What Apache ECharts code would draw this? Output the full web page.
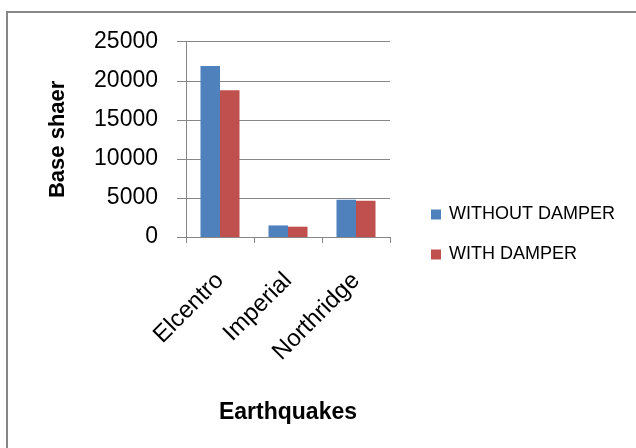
<!DOCTYPE html>
<html>
<head>
<meta charset="utf-8">
<script src="https://cdn.jsdelivr.net/npm/echarts@6/dist/echarts.min.js"></script>
<style>html,body{margin:0;padding:0;background:#fff}#c{width:636px;height:448px}</style>
</head>
<body>
<div id="c"></div>
<script>
const categories = ['Elcentro', 'Imperial', 'Northridge'];
const withoutDamper = [21900, 1480, 4770];
const withDamper = [18800, 1320, 4640];
const yTicks = { min: 0, max: 25000, interval: 5000 };
const seriesNames = ['WITHOUT DAMPER', 'WITH DAMPER'];

const FONT = 'Liberation Sans';
const chart = echarts.init(document.getElementById('c'), null, { renderer: 'canvas' });
chart.setOption({
  animation: false,
  backgroundColor: '#fff',
  graphic: [{
    type: 'rect', silent: true,
    shape: { x: 7, y: 12, width: 700, height: 500 },
    style: { fill: 'none', stroke: '#878787', lineWidth: 2 }
  }],
  grid: { left: 186, right: 246, top: 41.7, bottom: 211, containLabel: false },
  legend: {
    orient: 'vertical', left: 431, top: 205.5, padding: 0,
    itemWidth: 10, itemHeight: 10, itemGap: 22, icon: 'rect',
    data: seriesNames,
    textStyle: { fontFamily: FONT, fontSize: 18, color: '#000', lineHeight: 18, padding: [0, 0, 0, 3] }
  },
  xAxis: {
    type: 'category', data: categories,
    name: 'Earthquakes', nameLocation: 'middle', nameGap: 164,
    nameTextStyle: { fontFamily: FONT, fontSize: 23, fontWeight: 'bold', color: '#000' },
    axisLine: { lineStyle: { color: '#878787', width: 1 } },
    axisTick: { show: true, length: 6, lineStyle: { color: '#878787' } },
    axisLabel: { rotate: 45, margin: 40, fontFamily: FONT, fontSize: 24, color: '#000' }
  },
  yAxis: {
    type: 'value', min: yTicks.min, max: yTicks.max, interval: yTicks.interval,
    name: 'Base shaer', nameLocation: 'middle', nameGap: 117,
    nameTextStyle: { fontFamily: FONT, fontSize: 22, fontWeight: 'bold', color: '#000' },
    axisLine: { show: true, lineStyle: { color: '#878787', width: 1 } },
    axisTick: { show: true, length: 9, lineStyle: { color: '#878787' } },
    splitLine: { lineStyle: { color: '#878787', width: 1 } },
    axisLabel: { margin: 28, fontFamily: FONT, fontSize: 23, color: '#000', formatter: v => String(v) }
  },
  series: [
    { name: seriesNames[0], type: 'bar', data: withoutDamper, barGap: '0%', barCategoryGap: '42.6%',
      itemStyle: { color: '#4F81BD' } },
    { name: seriesNames[1], type: 'bar', data: withDamper, barGap: '0%', barCategoryGap: '42.6%',
      itemStyle: { color: '#C0504D' } }
  ]
});
</script>
</body>
</html>
